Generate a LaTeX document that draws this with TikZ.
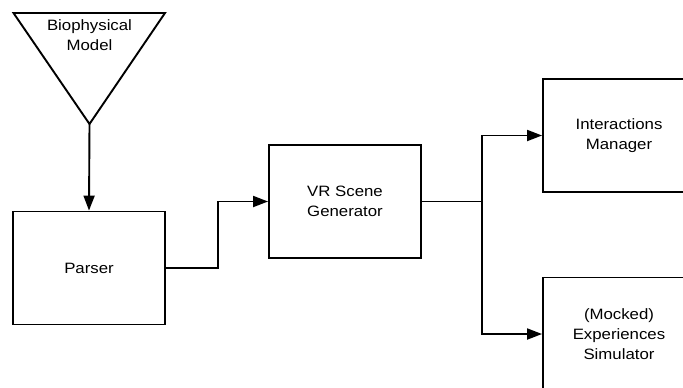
\documentclass[tikz,border=0pt]{standalone}
\usepackage{fontspec}
\setmainfont[FakeStretch=1.12]{Liberation Sans}
\usetikzlibrary{arrows.meta}
\begin{document}
\begin{tikzpicture}[x=1bp,y=-1bp,
  label/.style={font=\fontsize{15bp}{20bp}\selectfont,align=center,inner sep=0},
  box/.style={draw,line width=1.9bp,minimum width=152bp,minimum height=113bp,
    inner sep=0,align=center,font=\fontsize{15bp}{20bp}\selectfont},
  wire/.style={line width=1.9bp},
  link/.style={wire,-{Triangle[length=15bp,width=11bp]}}]
\useasboundingbox (0,0) rectangle (683,387);
\clip (0,0) rectangle (683,387);

% inverted triangle for the source model
\coordinate (tl) at (13.5,13);
\coordinate (tr) at (165,13);
\coordinate (apex) at (89.5,124);
\draw[wire,line join=miter] (tl) -- (tr) -- (apex) -- cycle;
\node[label] (bio) at (89.5,35.5) {Biophysical\\Model};

% processing boxes
\node[box] (parser) at (89,268) {Parser};
\node[box] (vr) at (345,201.5) {VR Scene\\Generator};
\node[box] (im) at (619,135.5) {Interactions\\Manager};
\node[box] (exp) at (619,334) {(Mocked)\\Experiences\\Simulator};

% connectors
\draw[link] (apex) -- (parser.north);
\draw[link] (parser.east) -- ++(52,0) |- (vr.west);
\draw[wire] (vr.east) -- (482,201.5) coordinate (split);
\draw[link] (split) |- (im.west);
\draw[link] (split) |- (exp.west);
\end{tikzpicture}
\end{document}
